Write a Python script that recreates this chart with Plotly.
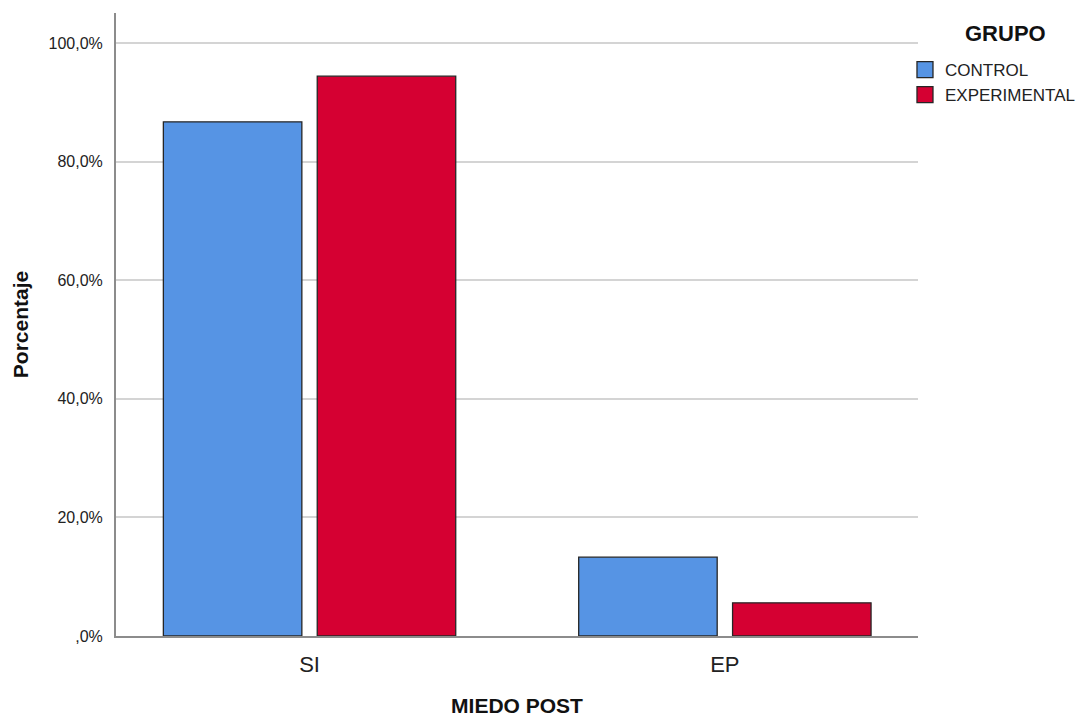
import plotly.graph_objects as go

# Categories and percentages per group
categorias = ["SI", "EP"]
control = [86.7, 13.3]
experimental = [94.4, 5.6]
grupos = ["CONTROL", "EXPERIMENTAL"]
colores = ["#5694E4", "#D50032"]

y_ticks = [0, 20, 40, 60, 80, 100]
y_tick_text = [",0%", "20,0%", "40,0%", "60,0%", "80,0%", "100,0%"]

FONT = "Arial, Liberation Sans, sans-serif"

fig = go.Figure()
for nombre, valores, color in zip(grupos, [control, experimental], colores):
    fig.add_trace(go.Bar(
        x=categorias, y=valores, name=nombre, showlegend=False,
        marker=dict(color=color, line=dict(color="#262626", width=1.3)),
        hovertemplate="%{x}: %{y:.1f}%<extra>" + nombre + "</extra>",
    ))
    # legend entry with a larger square swatch
    fig.add_trace(go.Scatter(
        x=[None], y=[None], mode="markers", name=nombre,
        marker=dict(symbol="square", size=16, color=color,
                    line=dict(color="#262626", width=1.3)),
    ))

fig.update_layout(
    width=1091, height=717,
    margin=dict(l=116, r=173, t=13, b=81, autoexpand=False),
    paper_bgcolor="white", plot_bgcolor="white",
    font=dict(family=FONT, color="#222222"),
    barmode="group", bargap=0.259, bargroupgap=0.1,
    legend=dict(
        xref="container", yref="container",
        x=0.8295, xanchor="left", y=0.9275, yanchor="top",
        font=dict(size=17, family=FONT, color="#222222"),
        tracegroupgap=0, itemsizing="trace",
        bgcolor="rgba(0,0,0,0)",
    ),
    annotations=[dict(
        text="<b>GRUPO</b>", xref="paper", yref="paper",
        x=1.1085, y=0.9663, xanchor="center", yanchor="middle", showarrow=False,
        font=dict(size=22, family=FONT, color="#111111"),
    )],
)

fig.update_xaxes(
    range=[-0.466, 1.465], showline=True, linecolor="#8c8c8c", linewidth=2,
    showgrid=False, ticks="", tickfont=dict(size=22, family=FONT, color="#222222"),
    ticklabelstandoff=8, automargin=False,
    title=dict(text="<b>MIEDO POST</b>", font=dict(size=21, family=FONT, color="#111111"),
               standoff=28),
)
fig.update_yaxes(
    range=[0, 105.06], showline=True, linecolor="#8c8c8c", linewidth=2,
    showgrid=True, gridcolor="#d4d4d4", gridwidth=2, zeroline=False,
    tickvals=y_ticks, ticktext=y_tick_text, ticks="",
    tickfont=dict(size=16, family=FONT, color="#222222"),
    ticklabelstandoff=8, automargin=True,
    title=dict(text="<b>Porcentaje</b>", font=dict(size=21, family=FONT, color="#111111"),
               standoff=14),
)

fig.write_html("out.html")
